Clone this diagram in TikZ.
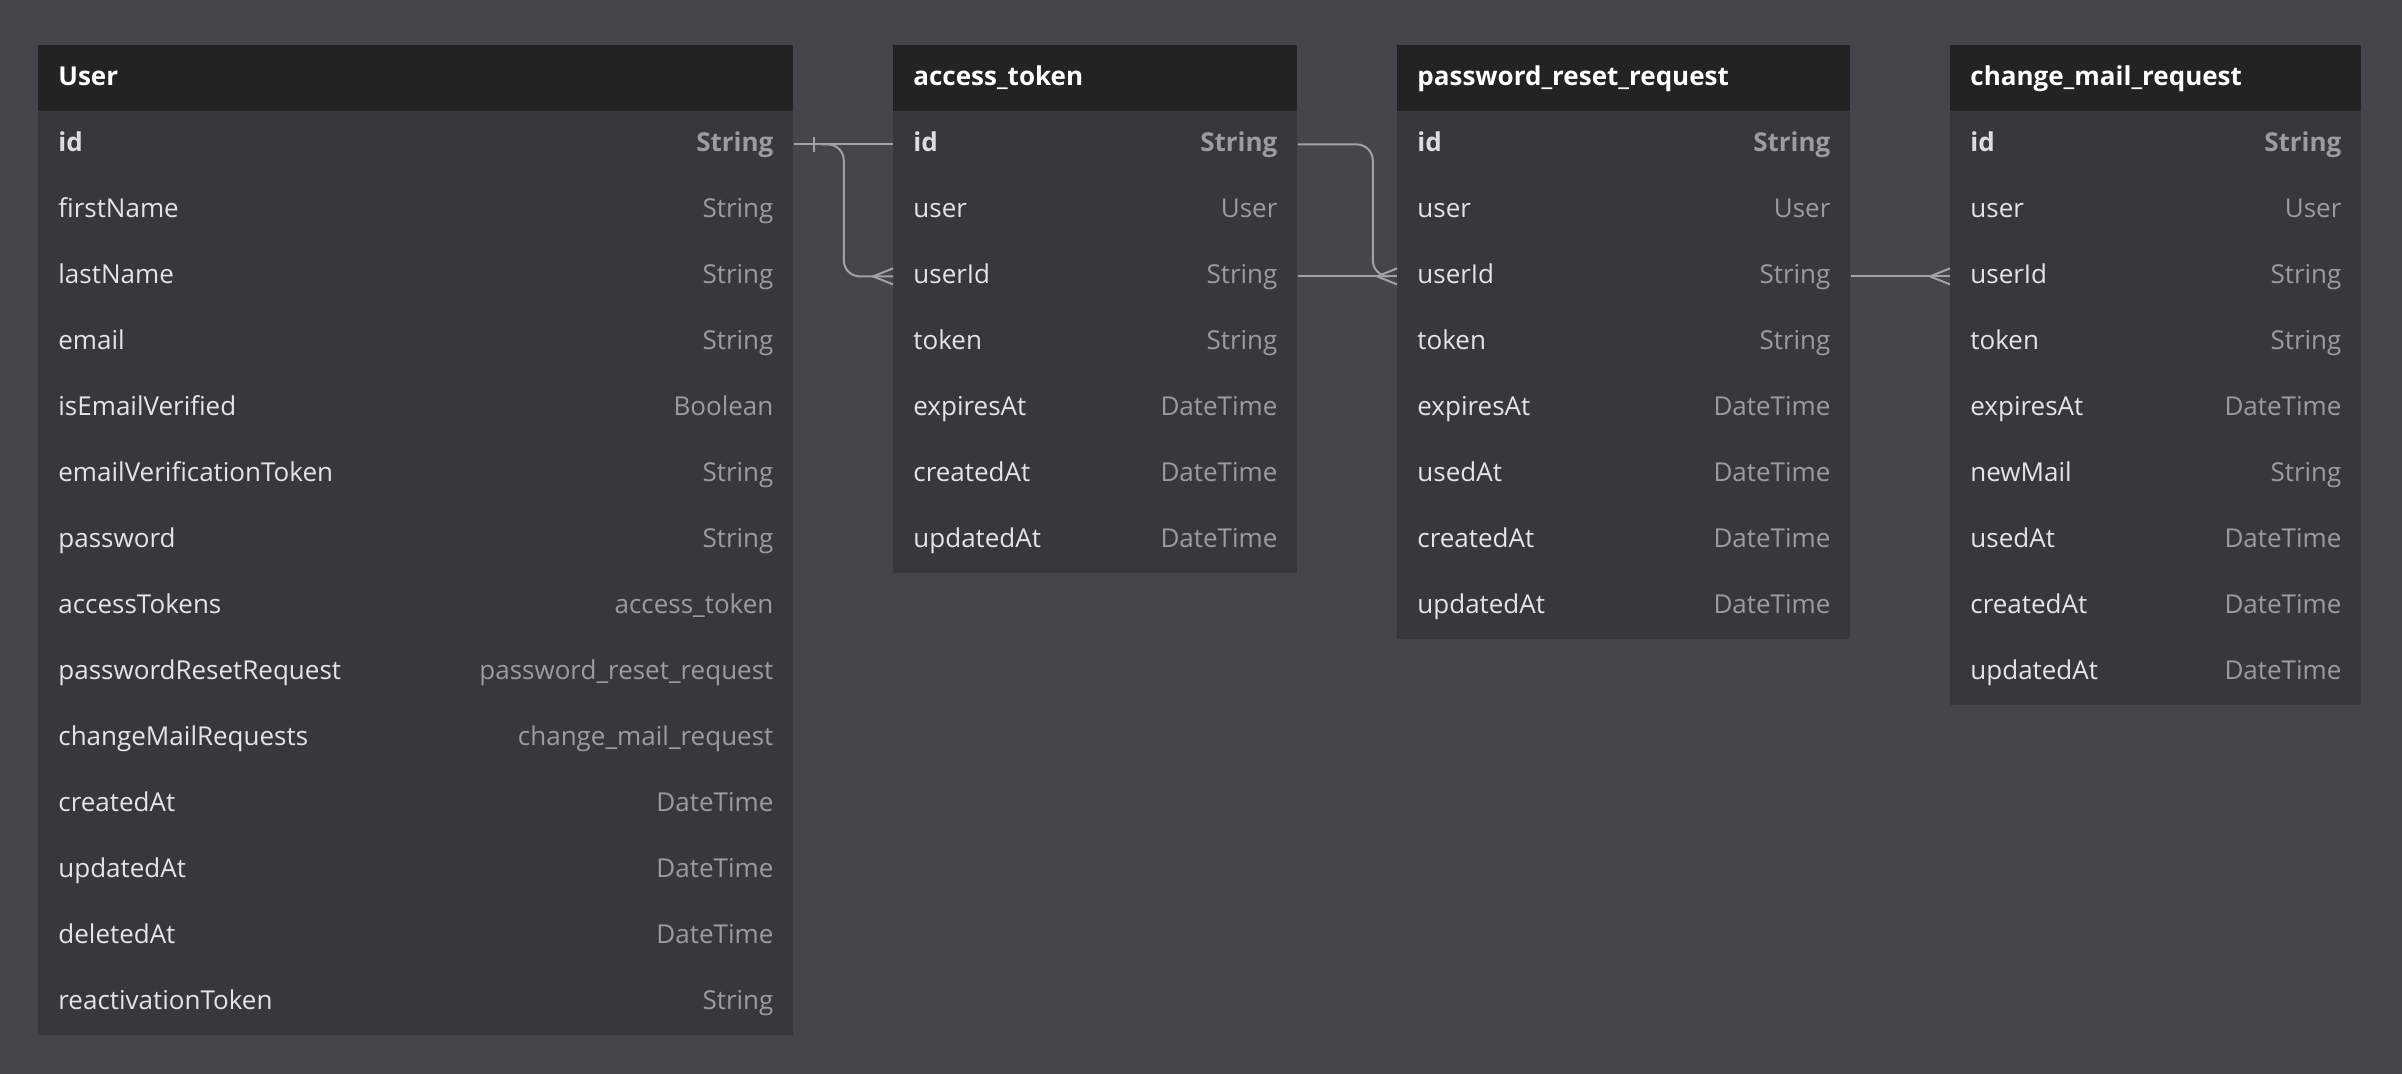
\documentclass[tikz,border=0pt]{standalone}
\usepackage{fontspec}
\setmainfont{Open Sans}
\usetikzlibrary{calc}
\definecolor{bg}{HTML}{45464B}
\definecolor{body}{HTML}{37383D}
\definecolor{hdrc}{HTML}{232323}
\definecolor{namec}{HTML}{E4E4E6}
\definecolor{typec}{HTML}{9C9C9E}
\definecolor{linec}{HTML}{A2A2A4}
\tikzset{
  hdr/.style={fill=hdrc, draw=none, inner sep=0pt, anchor=north west, minimum height=33pt},
  rowbox/.style={fill=body, draw=none, inner sep=0pt, anchor=north west, minimum height=33pt},
  titletext/.style={anchor=base west, inner sep=0pt, text=white, font=\fontsize{13}{15}\selectfont\bfseries},
  nametext/.style={anchor=base west, inner sep=0pt, text=namec, font=\fontsize{13}{15}\selectfont},
  typetext/.style={anchor=base east, inner sep=0pt, text=typec, font=\fontsize{13}{15}\selectfont},
  rel/.style={draw=linec, line width=1pt, rounded corners=8pt},
  relend/.style={draw=linec, line width=1pt}
}
\newcommand\ertable[5]{%
  \node[hdr, minimum width=#3*0.5pt] (#1) at (#2,45) {};
  \node[titletext] (#1-title) at ($(#1.west)+(20,7)$) {#4};
  \foreach \f/\t [count=\i] in {#5} {
    \node[rowbox, minimum width=#3*0.5pt] (#1-\i) at (#2,{111+66*(\i-1)}) {};
    \ifnum\i=1
      \node[nametext, font=\fontsize{13}{15}\selectfont\bfseries, text=namec!90!typec] (#1-\i-n) at ($(#1-\i.west)+(20,7)$) {\f};
      \node[typetext, font=\fontsize{13}{15}\selectfont\bfseries] (#1-\i-t) at ($(#1-\i.east)+(-20,7)$) {\t};
    \else
      \node[nametext] (#1-\i-n) at ($(#1-\i.west)+(20,7)$) {\f};
      \node[typetext] (#1-\i-t) at ($(#1-\i.east)+(-20,7)$) {\t};
    \fi
  }%
}
\begin{document}
\begin{tikzpicture}[x=0.5pt,y=-0.5pt]
\fill[bg] (0,0) rectangle (2402,1074);
\useasboundingbox (0,0) rectangle (2402,1074);

\ertable{user}{38}{755}{User}{id/String,firstName/String,lastName/String,email/String,isEmailVerified/Boolean,emailVerificationToken/String,password/String,accessTokens/access\_token,passwordResetRequest/password\_reset\_request,changeMailRequests/change\_mail\_request,createdAt/DateTime,updatedAt/DateTime,deletedAt/DateTime,reactivationToken/String}

\ertable{at}{893}{404}{access\_token}{id/String,user/User,userId/String,token/String,expiresAt/DateTime,createdAt/DateTime,updatedAt/DateTime}

\ertable{prr}{1397}{453}{password\_reset\_request}{id/String,user/User,userId/String,token/String,expiresAt/DateTime,usedAt/DateTime,createdAt/DateTime,updatedAt/DateTime}

\ertable{cmr}{1950}{411}{change\_mail\_request}{id/String,user/User,userId/String,token/String,expiresAt/DateTime,newMail/String,usedAt/DateTime,createdAt/DateTime,updatedAt/DateTime}

% User.id -> access_token (one side bar)
\draw[relend] (user-1.east) -- (at-1.west);
\draw[relend] ($(user-1.east)+(20,-7)$) -- ($(user-1.east)+(20,8)$);
% branch to access_token.userId
\path (user-1.east) ++(27,0) coordinate (b1);
\draw[rel] (b1) -| ($(b1)+(23,60)$) |- (at-3.west);
% crow foot at access_token.userId
\draw[relend] ($(at-3.west)+(-20,0)$) -- ($(at-3.west)+(0,-8)$);
\draw[relend] ($(at-3.west)+(-20,0)$) -- ($(at-3.west)+(0,8)$);

% access_token.id right -> password_reset_request.userId
\draw[rel] (at-1.east) -| ($(at-1.east)+(75,60)$) |- ($(prr-3.west)+(-20,0)$);
\draw[relend] (at-3.east) -- (prr-3.west);
\draw[relend] ($(prr-3.west)+(-20,0)$) -- ($(prr-3.west)+(0,-8)$);
\draw[relend] ($(prr-3.west)+(-20,0)$) -- ($(prr-3.west)+(0,8)$);

% password_reset_request.userId right -> change_mail_request.userId
\draw[relend] (prr-3.east) -- (cmr-3.west);
\draw[relend] ($(cmr-3.west)+(-20,0)$) -- ($(cmr-3.west)+(0,-8)$);
\draw[relend] ($(cmr-3.west)+(-20,0)$) -- ($(cmr-3.west)+(0,8)$);
\end{tikzpicture}
\end{document}
